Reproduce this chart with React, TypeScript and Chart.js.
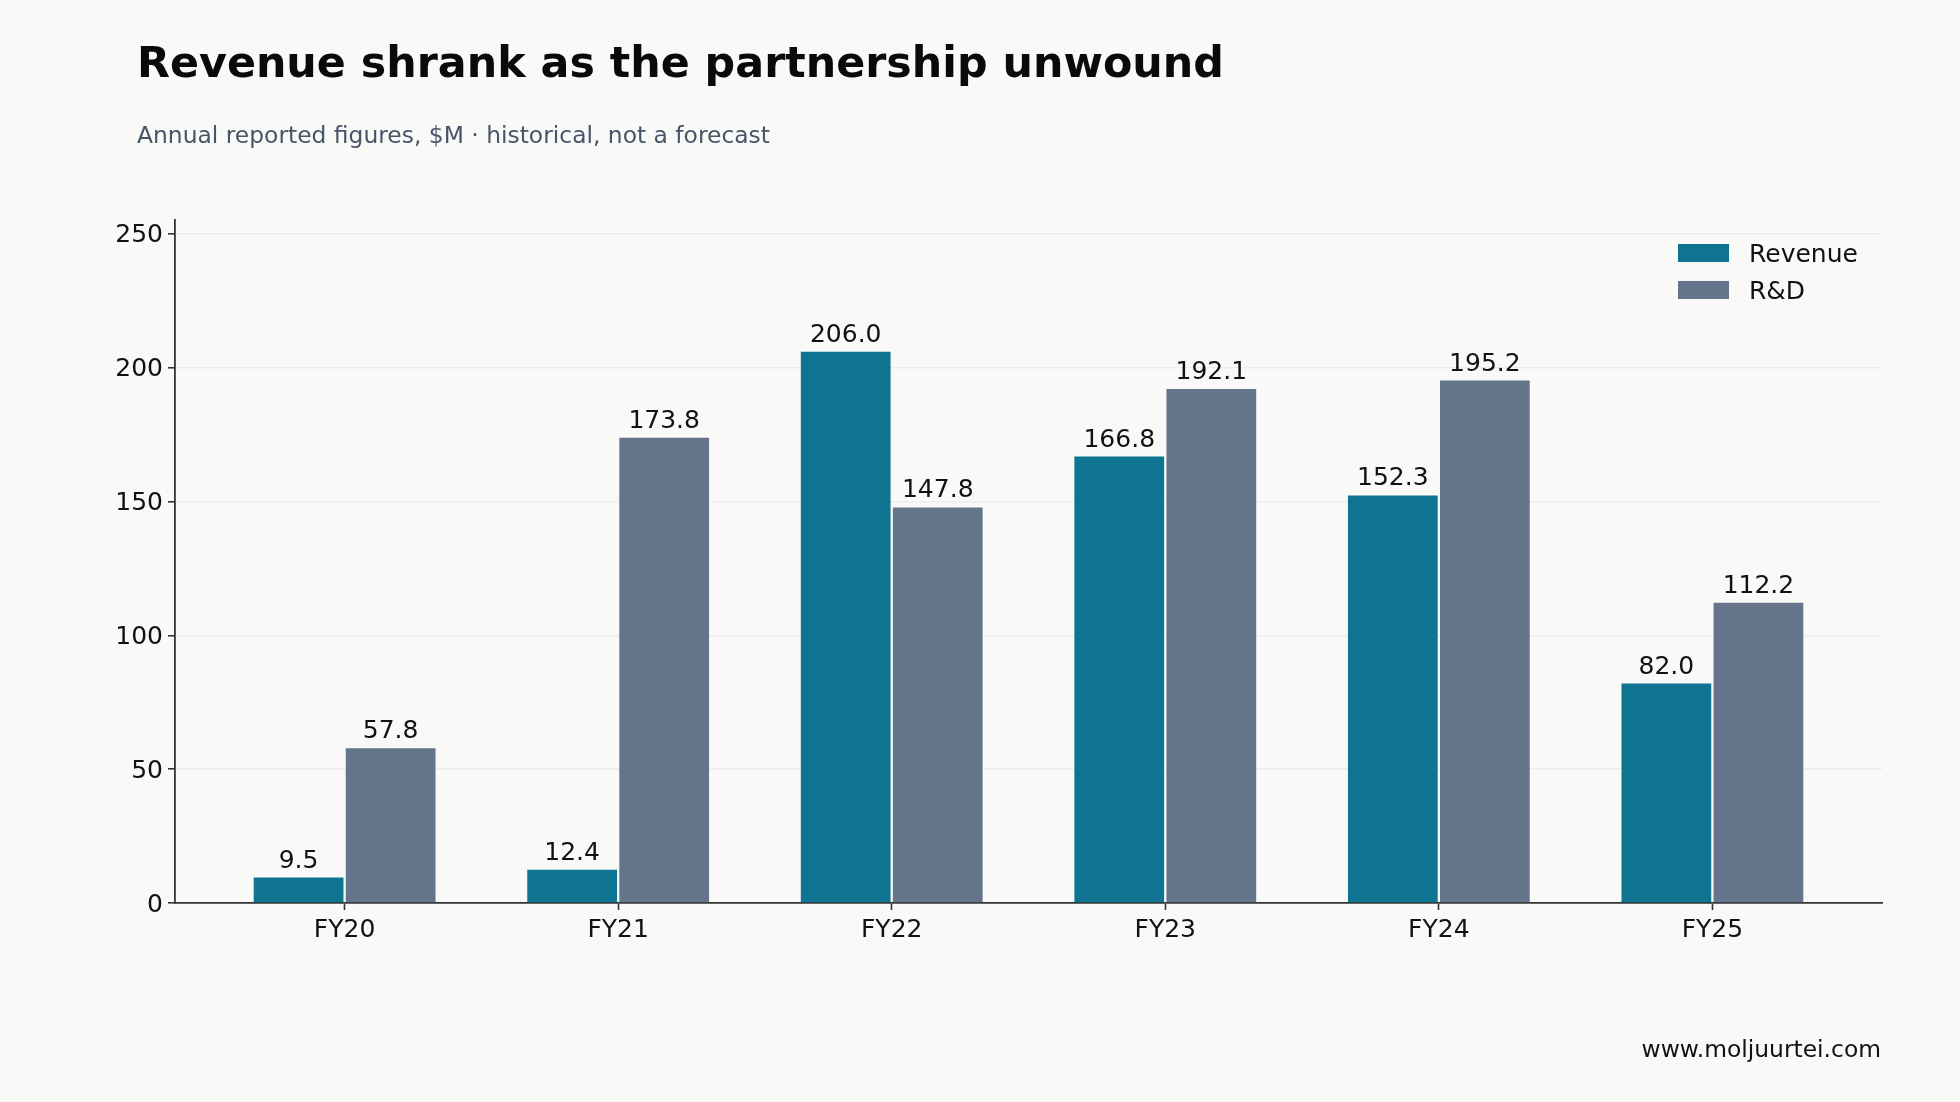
import { useEffect, useRef } from 'react'
import { Chart, registerables, type ChartConfiguration, type Plugin } from 'chart.js'
Chart.register(...registerables)

const categories = ['FY20', 'FY21', 'FY22', 'FY23', 'FY24', 'FY25']
const revenue = [9.5, 12.4, 206.0, 166.8, 152.3, 82.0]
const rnd = [57.8, 173.8, 147.8, 192.1, 195.2, 112.2]
const seriesNames = ['Revenue', 'R&D']
const seriesColors = ['#0f7491', '#64748b']
const yTicks = [0, 50, 100, 150, 200, 250]

const FONT = '"DejaVu Sans", Verdana, sans-serif'
const BG = '#f9f9f8'

const valueLabels: Plugin<'bar'> = {
  id: 'valueLabels',
  afterDatasetsDraw(chart) {
    const ctx = chart.ctx
    ctx.save()
    ctx.font = `25px ${FONT}`
    ctx.fillStyle = '#111'
    ctx.textAlign = 'center'
    ctx.textBaseline = 'alphabetic'
    chart.data.datasets.forEach((ds, di) => {
      const meta = chart.getDatasetMeta(di)
      meta.data.forEach((el: any, i) => {
        const v = (ds.data[i] as any).y as number
        ctx.fillText(v.toFixed(1), el.x, el.y - 10)
      })
    })
    ctx.restore()
  },
}

const cornerLegend: Plugin<'bar'> = {
  id: 'cornerLegend',
  afterDraw(chart) {
    const { ctx, chartArea } = chart
    ctx.save()
    ctx.font = `25px ${FONT}`
    ctx.textBaseline = 'alphabetic'
    ctx.textAlign = 'left'
    seriesNames.forEach((name, i) => {
      const y = chartArea.top + 24 + i * 37
      ctx.fillStyle = seriesColors[i]
      ctx.fillRect(chartArea.right - 204, y, 51, 18)
      ctx.fillStyle = '#111'
      ctx.fillText(name, chartArea.right - 133, y + 18)
    })
    ctx.restore()
  },
}

function BarChart() {
  const ref = useRef<HTMLCanvasElement>(null)

  useEffect(() => {
    if (!ref.current) return
    const config: ChartConfiguration<'bar'> = {
      type: 'bar',
      data: {
        datasets: [revenue, rnd].map((vals, s) => ({
          label: seriesNames[s],
          data: vals.map((y, i) => ({ x: i, y })) as any,
          backgroundColor: seriesColors[s],
          borderWidth: 0,
          categoryPercentage: 0.673,
          barPercentage: 0.975,
        })),
      },
      options: {
        responsive: false,
        animation: false,
        layout: { padding: { left: 115, right: 78, top: 220, bottom: 149 } },
        plugins: { legend: { display: false }, tooltip: { enabled: false } },
        scales: {
          x: {
            type: 'linear',
            offset: false,
            min: -0.62,
            max: 5.62,
            afterBuildTicks: scale => { scale.ticks = categories.map((_, i) => ({ value: i })) },
            afterFit: scale => { scale.height = 50 },
            ticks: {
              callback: v => categories[Number(v)] ?? '',
              font: { family: FONT, size: 25 },
              color: '#111',
              padding: 5,
              maxRotation: 0,
            },
            grid: { offset: false, drawOnChartArea: false, drawTicks: true, tickLength: 7, tickColor: '#333', tickWidth: 1.6 },
            border: { display: true, color: '#333', width: 1.8 },
          },
          y: {
            min: 0,
            max: 255.2,
            afterBuildTicks: scale => { scale.ticks = yTicks.map(value => ({ value })) },
            afterFit: scale => { scale.width = 60 },
            ticks: {
              font: { family: FONT, size: 25 },
              color: '#111',
              padding: 5,
              labelOffset: 2,
            },
            grid: { color: '#ededeb', lineWidth: 1.6, tickLength: 7, tickColor: '#333', tickWidth: 1.6 },
            border: { display: true, color: '#333', width: 1.8 },
          },
        },
      },
      plugins: [valueLabels, cornerLegend],
    }
    const chart = new Chart(ref.current, config)
    return () => chart.destroy()
  }, [])

  return <canvas ref={ref} width={1960} height={1102} style={{ position: 'absolute', left: 0, top: 0, width: 1960, height: 1102 }} />
}

export default function App() {
  return (
    <div style={{ position: 'fixed', left: 0, top: 0, width: 1960, height: 1102, background: BG, fontFamily: FONT, overflow: 'hidden' }}>
      <BarChart />
      <div style={{ position: 'absolute', left: 137, top: 41, fontSize: 42.8, lineHeight: '1', fontWeight: 700, color: '#0a0a0a', whiteSpace: 'nowrap' }}>
        Revenue shrank as the partnership unwound
      </div>
      <div style={{ position: 'absolute', left: 137, top: 124, fontSize: 23.4, lineHeight: '1', color: '#475569', whiteSpace: 'nowrap' }}>
        Annual reported figures, $M · historical, not a forecast
      </div>
      <div style={{ position: 'absolute', right: 79, top: 1038, fontSize: 23.4, lineHeight: '1', color: '#111', whiteSpace: 'nowrap' }}>
        www.moljuurtei.com
      </div>
    </div>
  )
}
